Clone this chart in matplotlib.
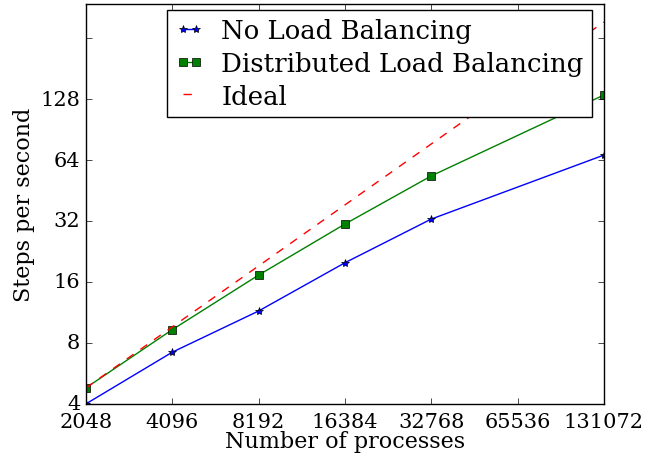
import numpy as np
import matplotlib
matplotlib.use('Agg')
import matplotlib.pyplot as plt

procs = [2048, 4096, 8192, 16384, 32768, 131072]
no_lb = [4.0, 7.2, 11.5, 19.9, 32.7, 67.7]
dist_lb = [4.8, 9.3, 17.3, 30.9, 53.4, 134.0]
ideal = [4.8 * p / 2048 for p in procs]

xticks = [2048, 4096, 8192, 16384, 32768, 65536, 131072]
yticks = [4, 8, 16, 32, 64, 128, 256]
ylabels = ['4', '8', '16', '32', '64', '128', '']

plt.style.use('classic')
plt.rcParams['font.family'] = 'DejaVu Serif'

fig = plt.figure(figsize=(6.71, 4.56), dpi=100)
fig.patch.set_facecolor('white')
ax = fig.add_axes([0.128, 0.112, 0.772, 0.877])

ax.plot(procs, no_lb, 'b-*', label='No Load Balancing')
ax.plot(procs, dist_lb, 'g-s', label='Distributed Load Balancing')
ax.plot(procs, ideal, 'r--', label='Ideal')

ax.set_xscale('log', base=2)
ax.set_yscale('log', base=2)
ax.set_xlim(2048, 131072)
ax.set_ylim(4, 377)
ax.set_xticks(xticks)
ax.set_xticklabels([str(t) for t in xticks])
ax.set_yticks(yticks)
ax.set_yticklabels(ylabels)
ax.minorticks_off()
ax.tick_params(labelsize=15)
ax.tick_params(axis='x', pad=6)

ax.set_xlabel('Number of processes', fontsize=16, labelpad=-1)
ax.set_ylabel('Steps per second', fontsize=16, labelpad=4)

ax.legend(loc='upper left', bbox_to_anchor=(0.156, 0.986), borderaxespad=0,
          prop={'size': 18.7}, numpoints=2, handlelength=1.1,
          handletextpad=0.68, borderpad=0.32, labelspacing=0.3)

plt.savefig('out.png', dpi=100, facecolor='white')
